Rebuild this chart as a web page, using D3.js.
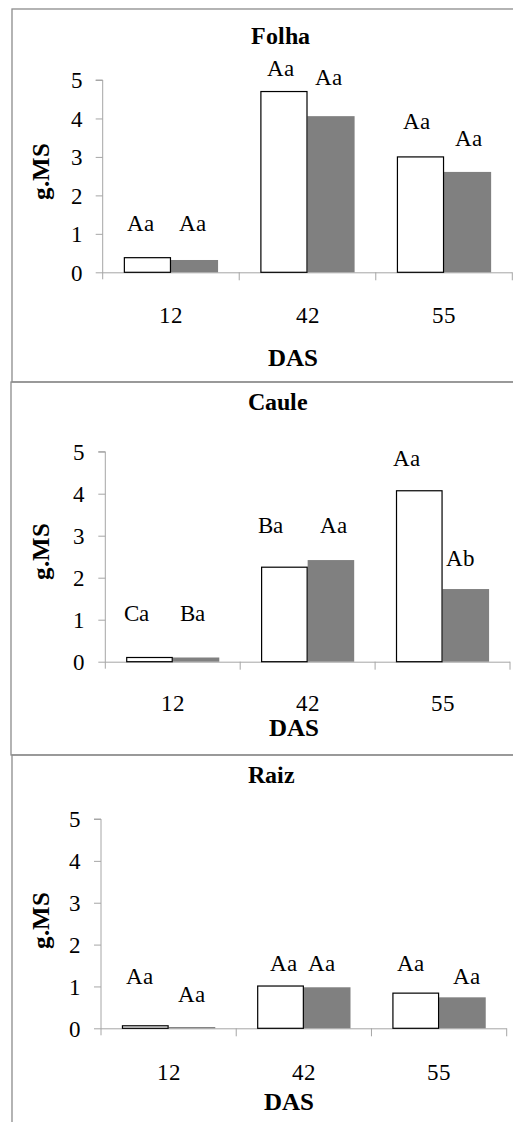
<!DOCTYPE html>
<html>
<head>
<meta charset="utf-8">
<script src="https://cdn.jsdelivr.net/npm/d3@7"></script>
<style>
  @font-face { font-family: "ChartSerif"; font-weight: normal; src: local("Liberation Serif"), local("LiberationSerif"), local("Liberation Serif Regular"), local("LiberationSerif-Regular"); }
  @font-face { font-family: "ChartSerif"; font-weight: bold; src: local("Liberation Serif Bold"), local("LiberationSerif-Bold"); }
  html, body { margin: 0; padding: 0; background: #fff; }
  svg { display: block; }
</style>
</head>
<body>
<svg id="chart" width="513" height="1122"></svg>
<script>
// Days after sowing (DAS)
const categories = ["12", "42", "55"];
const yTicks = [0, 1, 2, 3, 4, 5];

// Dry mass (g) – white series / grey series
const folhaWhite = [0.38, 4.70, 3.00];
const folhaGrey  = [0.32, 4.06, 2.61];
const cauleWhite = [0.10, 2.25, 4.07];
const cauleGrey  = [0.10, 2.42, 1.73];
const raizWhite  = [0.06, 1.01, 0.84];
const raizGrey   = [0.03, 0.98, 0.74];

// Significance letters
const folhaWhiteLetters = ["Aa", "Aa", "Aa"];
const folhaGreyLetters  = ["Aa", "Aa", "Aa"];
const cauleWhiteLetters = ["Ca", "Ba", "Aa"];
const cauleGreyLetters  = ["Ba", "Aa", "Ab"];
const raizWhiteLetters  = ["Aa", "Aa", "Aa"];
const raizGreyLetters   = ["Aa", "Aa", "Aa"];

// Heights (in g) at which the letters sit
const folhaWhiteLetterY = [1.07, 5.11, 3.72];
const folhaGreyLetterY  = [1.07, 4.87, 3.29];
const cauleWhiteLetterY = [0.98, 3.06, 4.67];
const cauleGreyLetterY  = [0.98, 3.06, 2.29];
const raizWhiteLetterY  = [1.07, 1.37, 1.37];
const raizGreyLetterY   = [0.64, 1.37, 1.05];

const FONT = "ChartSerif, 'Liberation Serif', 'Times New Roman', 'DejaVu Serif', serif";

const panels = [
  { title: "Folha", white: folhaWhite, grey: folhaGrey,
    wl: folhaWhiteLetters, gl: folhaGreyLetters, wy: folhaWhiteLetterY, gy: folhaGreyLetterY,
    box: { x: 12, y: 9, h: 373 },
    plot: { x0: 102.7, x1: 512.3, y0: 272.3, y5: 80 },
    titleX: 280, titleY: 44, tickY: 322.7, dasX: 293.3, dasY: 365.7, gmsY: 171,
    wdx: [-7, -3, -4], gdx: [-2, -3, 1] },
  { title: "Caule", white: cauleWhite, grey: cauleGrey,
    wl: cauleWhiteLetters, gl: cauleGreyLetters, wy: cauleWhiteLetterY, gy: cauleGreyLetterY,
    box: { x: 11, y: 382, h: 373 },
    plot: { x0: 105.3, x1: 510, y0: 661.7, y5: 451.7 },
    titleX: 278.3, titleY: 410, tickY: 711, dasX: 294.3, dasY: 736, gmsY: 551.7,
    wdx: [-13, -14, -13], gdx: [-4, 3, -5] },
  { title: "Raiz", white: raizWhite, grey: raizGrey,
    wl: raizWhiteLetters, gl: raizGreyLetters, wy: raizWhiteLetterY, gy: raizGreyLetterY,
    box: { x: 12, y: 755, h: 400 },
    plot: { x0: 101, x1: 506.7, y0: 1028.3, y5: 819 },
    titleX: 271.7, titleY: 783.3, tickY: 1080, dasX: 289.3, dasY: 1110, gmsY: 920,
    wdx: [-6, 3, -5], gdx: [0, -6, 4] }
];

const svg = d3.select("#chart").attr("font-family", FONT);
const axisColor = "#a6a6a6";

function serif(sel, size, bold) {
  sel.attr("font-family", FONT).style("font-family", FONT)
    .style("font-size", size + "px")
    .style("font-weight", bold ? "bold" : "normal")
    .attr("fill", "#000");
  return sel;
}

panels.forEach(p => {
  const g = svg.append("g");

  // panel frame (top and left edges visible, right side runs off the page)
  g.append("rect")
    .attr("x", p.box.x).attr("y", p.box.y)
    .attr("width", 600).attr("height", p.box.h)
    .attr("fill", "none").attr("stroke", "#8c8c8c").attr("stroke-width", 1.3);

  const x = d3.scaleBand().domain(categories).range([p.plot.x0, p.plot.x1]).padding(0);
  const bw = x.bandwidth();
  const xs = d3.scaleBand().domain(["white", "grey"])
    .range([bw * 0.155, bw * 0.845]).padding(0);
  const y = d3.scaleLinear().domain([0, 5]).range([p.plot.y0, p.plot.y5]);

  // value axis
  const yAxis = g.append("g")
    .attr("transform", `translate(${p.plot.x0},0)`)
    .call(d3.axisLeft(y).tickValues(yTicks).tickSize(7).tickPadding(13).tickFormat(d3.format("d")));
  yAxis.attr("font-family", FONT);
  yAxis.select(".domain").attr("stroke", axisColor).attr("d", `M-7,${y(5)}H0V${y(0) + 7}`);
  yAxis.selectAll(".tick line").attr("stroke", axisColor);
  serif(yAxis.selectAll(".tick text"), 23, false).attr("dy", "0.34em");

  // category axis: line with ticks at band boundaries, labels at band centres
  const xAxis = g.append("g")
    .attr("transform", `translate(0,${p.plot.y0})`)
    .call(d3.axisBottom(x).tickSize(0).tickPadding(0));
  xAxis.attr("font-family", FONT);
  xAxis.select(".domain").attr("stroke", axisColor).attr("d", `M${p.plot.x0},0.5H${p.plot.x1}`);
  serif(xAxis.selectAll(".tick text"), 23, false)
    .attr("y", p.tickY - p.plot.y0).attr("dy", 0);
  const bounds = categories.map(c => x(c) + bw);
  xAxis.selectAll("line.bound").data(bounds).join("line")
    .attr("class", "bound")
    .attr("x1", d => d).attr("x2", d => d)
    .attr("y1", 0).attr("y2", 8)
    .attr("stroke", axisColor);

  // bars
  const rows = categories.map((c, i) => ({ c, i, white: p.white[i], grey: p.grey[i] }));
  const groups = g.selectAll("g.grp").data(rows).join("g")
    .attr("class", "grp")
    .attr("transform", d => `translate(${x(d.c)},0)`);

  groups.append("rect")
    .attr("x", xs("grey")).attr("width", xs.bandwidth())
    .attr("y", d => y(d.grey)).attr("height", d => y(0) - y(d.grey))
    .attr("fill", "#808080");

  groups.append("rect")
    .attr("x", xs("white") + 0.5).attr("width", xs.bandwidth() - 1)
    .attr("y", d => y(d.white)).attr("height", d => y(0) - y(d.white))
    .attr("fill", "#fff").attr("stroke", "#000").attr("stroke-width", 1.2);

  // significance letters
  serif(groups.append("text"), 23, false)
    .attr("x", d => xs("white") + xs.bandwidth() / 2 + p.wdx[d.i])
    .attr("y", d => y(p.wy[d.i]))
    .attr("text-anchor", "middle")
    .text(d => p.wl[d.i]);
  serif(groups.append("text"), 23, false)
    .attr("x", d => xs("grey") + xs.bandwidth() / 2 + p.gdx[d.i])
    .attr("y", d => y(p.gy[d.i]))
    .attr("text-anchor", "middle")
    .text(d => p.gl[d.i]);

  // titles
  serif(g.append("text"), 24, true)
    .attr("x", p.titleX).attr("y", p.titleY)
    .attr("text-anchor", "middle")
    .text(p.title);
  serif(g.append("text"), 25, true)
    .attr("x", p.dasX).attr("y", p.dasY)
    .attr("text-anchor", "middle")
    .text("DAS");
  serif(g.append("text"), 25, true)
    .attr("transform", `translate(49,${p.gmsY}) rotate(-90)`)
    .attr("text-anchor", "middle")
    .text("g.MS");
});
</script>
</body>
</html>
